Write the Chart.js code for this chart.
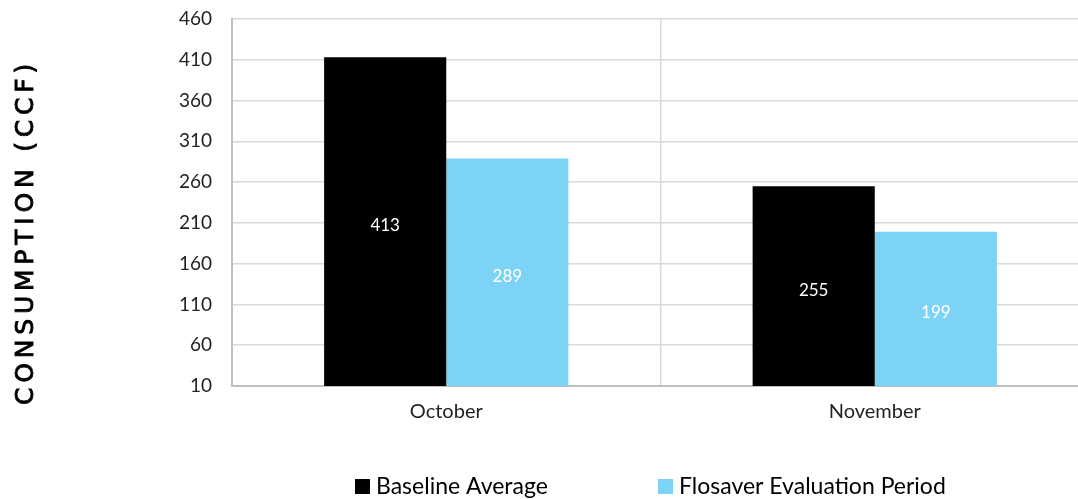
<!DOCTYPE html>
<html>
<head>
<meta charset="utf-8">
<script src="https://cdn.jsdelivr.net/npm/chart.js@4"></script>
<style>
  html, body { margin: 0; padding: 0; background: #fff; overflow: hidden; }
  #wrap { width: 1090px; height: 499px; }
</style>
</head>
<body>
<div id="wrap"><canvas id="chart"></canvas></div>
<script>
// chart data
var months = ['October', 'November'];
var baselineAvg = [413, 255];
var flosaverEval = [289, 199];
var seriesNames = ['Baseline Average', 'Flosaver Evaluation Period'];
var seriesColors = ['#000000', '#7dd3f5'];
var yTitle = 'CONSUMPTION (CCF)';

var FONT = 'Lato, "Open Sans", sans-serif';

// values printed in the middle of each bar
var barLabels = {
    id: 'barLabels',
    afterDatasetsDraw: function (chart) {
        var ctx = chart.ctx;
        ctx.save();
        ctx.fillStyle = '#ffffff';
        ctx.font = '17px ' + FONT;
        ctx.textAlign = 'center';
        ctx.textBaseline = 'middle';
        chart.data.datasets.forEach(function (ds, i) {
            chart.getDatasetMeta(i).data.forEach(function (bar, j) {
                var p = bar.getProps(['x', 'y', 'base'], true);
                ctx.fillText(ds.data[j], p.x, (p.y + p.base) / 2);
            });
        });
        ctx.restore();
    }
};

// rotated axis title + legend at the bottom
var extras = {
    id: 'extras',
    afterDraw: function (chart) {
        var ctx = chart.ctx;
        ctx.save();
        ctx.translate(26, 232);
        ctx.rotate(-Math.PI / 2);
        ctx.fillStyle = '#000';
        ctx.strokeStyle = '#000';
        ctx.lineWidth = 0.9;
        ctx.font = '25px "DejaVu Sans", sans-serif';
        ctx.letterSpacing = '4.8px';
        ctx.textAlign = 'center';
        ctx.textBaseline = 'middle';
        ctx.fillText(yTitle, 0, 0);
        ctx.strokeText(yTitle, 0, 0);
        ctx.restore();

        ctx.save();
        ctx.font = '23px ' + FONT;
        ctx.textBaseline = 'middle';
        var starts = [355, 658];
        chart.data.datasets.forEach(function (ds, i) {
            ctx.fillStyle = ds.backgroundColor;
            ctx.fillRect(starts[i], 479, 15, 15);
            ctx.fillStyle = '#000';
            ctx.fillText(ds.label, starts[i] + 21, 487);
        });
        ctx.restore();
    }
};

new Chart(document.getElementById('chart').getContext('2d'), {
    type: 'bar',
    data: {
        labels: months,
        datasets: [
            { label: seriesNames[0], data: baselineAvg, backgroundColor: seriesColors[0] },
            { label: seriesNames[1], data: flosaverEval, backgroundColor: seriesColors[1] }
        ]
    },
    options: {
        responsive: true,
        maintainAspectRatio: false,
        animation: false,
        layout: { padding: { top: 19, right: 1, left: 0, bottom: 0 } },
        datasets: { bar: { categoryPercentage: 0.57, barPercentage: 1.0 } },
        scales: {
            x: {
                grid: { color: '#d9d9d9', lineWidth: 1.5, offset: true, drawTicks: false },
                border: { color: '#bfbfbf', width: 2 },
                ticks: { color: '#222', font: { family: FONT, size: 20 }, padding: 14 },
                afterFit: function (s) { s.height = 113; }
            },
            y: {
                min: 10,
                max: 460,
                grid: { color: '#d9d9d9', lineWidth: 1.5, drawTicks: false },
                border: { color: '#bfbfbf', width: 2 },
                ticks: { stepSize: 50, color: '#222', font: { family: FONT, size: 19 }, padding: 20 },
                afterFit: function (s) {
                    s.width = 232;
                    s.paddingTop = 0;
                    s.paddingBottom = 0;
                }
            }
        },
        plugins: {
            legend: { display: false },
            tooltip: { enabled: false }
        }
    },
    plugins: [barLabels, extras]
});
</script>
</body>
</html>
